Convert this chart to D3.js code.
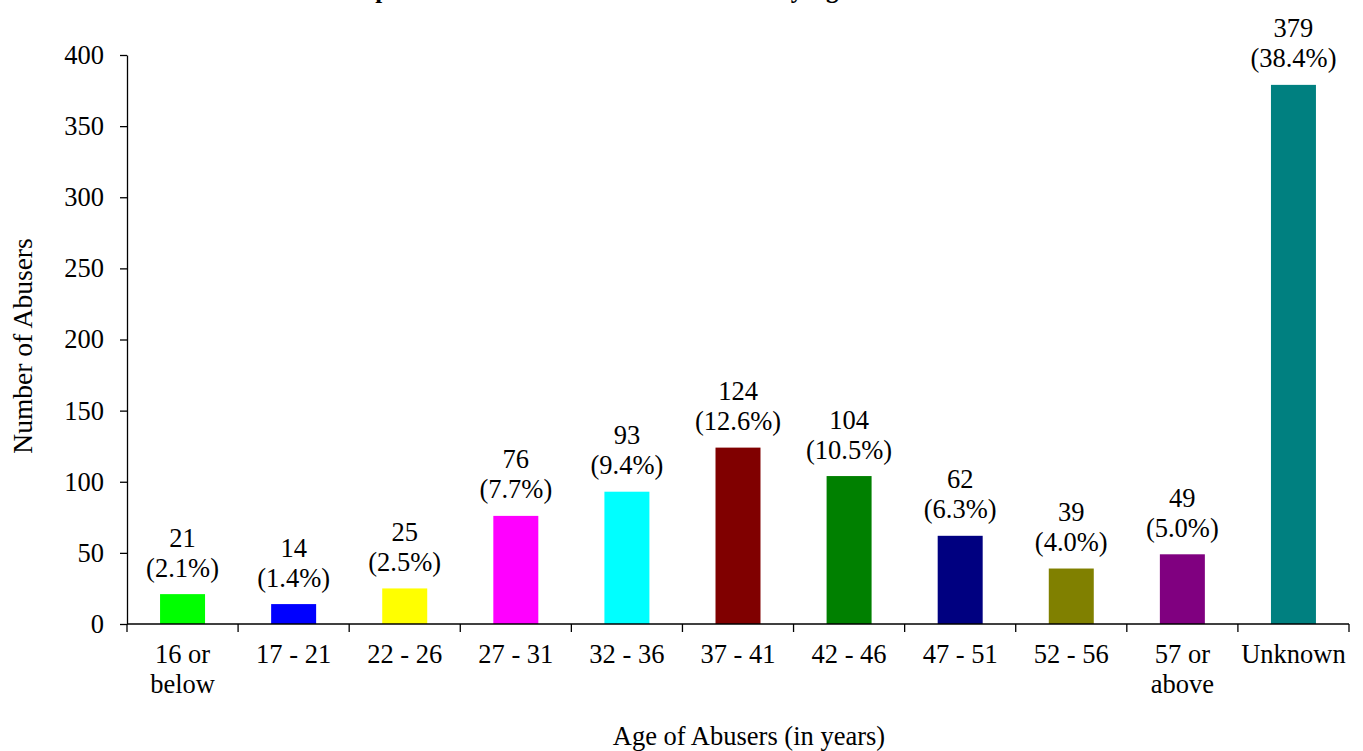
<!DOCTYPE html>
<html>
<head>
<meta charset="utf-8">
<script src="https://cdn.jsdelivr.net/npm/d3@7"></script>
<style>
  html, body { margin: 0; padding: 0; background: #fff; }
  svg { display: block; }
  text { font-family: "Liberation Serif", "Times New Roman", serif; fill: #000; }
</style>
</head>
<body>
<svg id="chart" width="1363" height="751"></svg>
<script>
const categories = ["16 or|below", "17 - 21", "22 - 26", "27 - 31", "32 - 36", "37 - 41", "42 - 46", "47 - 51", "52 - 56", "57 or|above", "Unknown"];
const values = [21, 14, 25, 76, 93, 124, 104, 62, 39, 49, 379];
const percents = ["2.1%", "1.4%", "2.5%", "7.7%", "9.4%", "12.6%", "10.5%", "6.3%", "4.0%", "5.0%", "38.4%"];
const colors = ["#00FF00", "#0000FF", "#FFFF00", "#FF00FF", "#00FFFF", "#800000", "#008000", "#000080", "#808000", "#800080", "#008080"];
const yTicks = [0, 50, 100, 150, 200, 250, 300, 350, 400];
const titleText = "Number of Reported Abusers in Child Abuse Cases by Age";
const xTitle = "Age of Abusers (in years)";
const yTitle = "Number of Abusers";

(function () {
const svg = d3.select("#chart");
svg.append("rect").attr("width", 1363).attr("height", 751).attr("fill", "#fff");

const pLeft = 127, pRight = 1349, pTop = 55, pBottom = 624;
const fs = 26.5;

const y = d3.scaleLinear().domain([0, 400]).range([pBottom, pTop]);
const slot = d3.scaleBand().domain(categories).range([pLeft, pRight]).padding(0);
const barW = slot.bandwidth() * 0.405;

// title (mostly cropped off the top edge, as in the reference)
svg.append("text")
  .attr("x", 537).attr("y", -2)
  .attr("text-anchor", "middle")
  .style("font-weight", "bold")
  .style("font-size", "25px")
  .text(titleText);

// bars
svg.selectAll("rect.bar").data(categories).enter().append("rect")
  .attr("class", "bar")
  .attr("x", (c) => slot(c) + (slot.bandwidth() - barW) / 2)
  .attr("y", (c, i) => y(values[i]))
  .attr("width", barW)
  .attr("height", (c, i) => pBottom - y(values[i]))
  .attr("fill", (c, i) => colors[i]);

// y axis
const yAxis = svg.append("g")
  .attr("transform", `translate(${pLeft},0)`)
  .call(d3.axisLeft(y).tickValues(yTicks).tickSize(7).tickSizeOuter(0).tickPadding(16).tickFormat(d3.format("d")));
yAxis.select(".domain").attr("stroke", "#000").attr("stroke-width", 1.3);
yAxis.selectAll(".tick line").attr("stroke", "#000").attr("stroke-width", 1.3);
yAxis.selectAll(".tick text")
  .style("font-family", "'Liberation Serif', 'Times New Roman', serif")
  .style("font-size", fs + "px").attr("fill", "#000");

// x axis line and boundary ticks
svg.append("line")
  .attr("x1", pLeft).attr("x2", pRight).attr("y1", pBottom).attr("y2", pBottom)
  .attr("stroke", "#000").attr("stroke-width", 1.3);
const bounds = categories.map((c) => slot(c)).concat([slot.range()[1]]);
svg.selectAll("line.xtick").data(bounds).enter().append("line")
  .attr("class", "xtick")
  .attr("x1", (d) => d).attr("x2", (d) => d)
  .attr("y1", pBottom).attr("y2", pBottom + 8)
  .attr("stroke", "#000").attr("stroke-width", 1.3);

// category labels
const catG = svg.selectAll("text.cat").data(categories).enter().append("text")
  .attr("class", "cat")
  .attr("text-anchor", "middle")
  .style("font-size", fs + "px");
catG.each(function (c) {
  const parts = c.split("|");
  const cx = slot(c) + slot.bandwidth() / 2;
  parts.forEach((p, k) => {
    d3.select(this).append("tspan").attr("x", cx).attr("y", 663 + k * 30).text(p);
  });
});

// data labels
svg.selectAll("g.lbl").data(categories).enter().append("g")
  .attr("class", "lbl")
  .each(function (c, i) {
    const cx = slot(c) + slot.bandwidth() / 2;
    const ly = Math.max(y(values[i]) - 17.5, 60);
    const g = d3.select(this);
    g.append("text").attr("x", cx).attr("y", ly - 30).attr("text-anchor", "middle")
      .style("font-size", fs + "px").text(values[i]);
    g.append("text").attr("x", cx).attr("y", ly).attr("text-anchor", "middle")
      .style("font-size", fs + "px").text("(" + percents[i] + ")");
  });

// axis titles
svg.append("text")
  .attr("transform", "translate(32,346) rotate(-90)")
  .attr("text-anchor", "middle")
  .style("font-size", "27.5px")
  .text(yTitle);
svg.append("text")
  .attr("x", 749).attr("y", 745)
  .attr("text-anchor", "middle")
  .style("font-size", fs + "px")
  .text(xTitle);
})();
</script>
</body>
</html>
